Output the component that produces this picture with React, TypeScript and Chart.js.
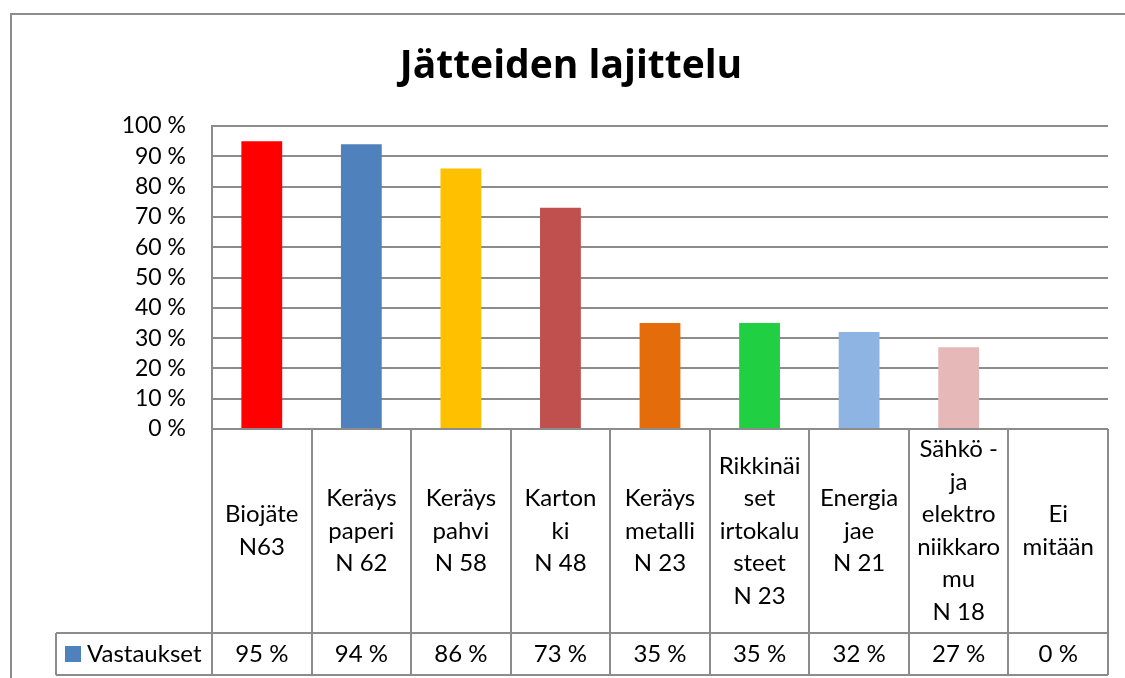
import React, { useEffect, useRef } from "react";
import { Chart, registerables } from "chart.js";

Chart.register(...registerables);

const TITLE = "Jätteiden lajittelu";
const SERIES_NAME = "Vastaukset";
const categoryLines: string[][] = [
  ["Biojäte", "N63"],
  ["Keräys", "paperi", "N 62"],
  ["Keräys", "pahvi", "N 58"],
  ["Karton", "ki", "N 48"],
  ["Keräys", "metalli", "N 23"],
  ["Rikkinäi", "set", "irtokalu", "steet", "N 23"],
  ["Energia", "jae", "N 21"],
  ["Sähkö -", "ja", "elektro", "niikkaro", "mu", "N 18"],
  ["Ei", "mitään"],
];
const values = [95, 94, 86, 73, 35, 35, 32, 27, 0];
const barColors = [
  "#FF0000",
  "#4F81BD",
  "#FFC000",
  "#C0504D",
  "#E46C0A",
  "#21CF43",
  "#8EB4E3",
  "#E6B9B8",
  "#A5A5A5",
];
const legendColor = "#4F81BD";
const yMin = 0;
const yMax = 100;
const yStep = 10;

const FONT = "Lato, 'Open Sans', sans-serif";
const TITLE_FONT = "'Open Sans', Lato, sans-serif";
const LINE = "#8c8c8c";

const tablePlugin = {
  id: "dataTable",
  beforeDraw(chart: any) {
    const ctx = chart.ctx;
    ctx.save();
    ctx.strokeStyle = LINE;
    ctx.lineWidth = 2;
    ctx.beginPath();
    ctx.moveTo(11, chart.height);
    ctx.lineTo(11, 14);
    ctx.lineTo(chart.width, 14);
    ctx.stroke();
    ctx.restore();
  },
  afterDraw(chart: any) {
    const ctx = chart.ctx;
    const xs = chart.scales.x;
    const area = chart.chartArea;
    const n = categoryLines.length;
    const cw = (area.right - area.left) / n;
    const top = area.bottom;
    const mid = top + 204;
    const bot = mid + 42;
    const legendLeft = 56;

    ctx.save();
    ctx.strokeStyle = LINE;
    ctx.lineWidth = 2;
    ctx.beginPath();
    ctx.moveTo(area.left, top);
    ctx.lineTo(area.right, top);
    ctx.moveTo(legendLeft, mid);
    ctx.lineTo(area.right, mid);
    ctx.moveTo(legendLeft, bot);
    ctx.lineTo(area.right, bot);
    for (let i = 0; i <= n; i++) {
      const x = Math.round(area.left + i * cw);
      ctx.moveTo(x, top);
      ctx.lineTo(x, bot);
    }
    ctx.moveTo(legendLeft, mid);
    ctx.lineTo(legendLeft, bot);
    ctx.stroke();

    ctx.fillStyle = "#000";
    ctx.font = `24px ${FONT}`;
    ctx.textAlign = "center";
    ctx.textBaseline = "middle";
    const lh = 32.5;
    const cellMid = (top + mid) / 2;
    categoryLines.forEach((lines, i) => {
      const cx = xs.getPixelForValue(i);
      const y0 = cellMid - ((lines.length - 1) * lh) / 2;
      lines.forEach((t, j) => ctx.fillText(t, cx, y0 + j * lh));
      ctx.fillText(`${values[i]} %`, cx, (mid + bot) / 2);
    });

    ctx.fillStyle = legendColor;
    ctx.fillRect(65, (mid + bot) / 2 - 8, 16, 16);
    ctx.fillStyle = "#000";
    ctx.textAlign = "left";
    ctx.fillText(SERIES_NAME, 87, (mid + bot) / 2);

    ctx.font = `bold 39px ${TITLE_FONT}`;
    ctx.textAlign = "center";
    ctx.textBaseline = "alphabetic";
    ctx.fillText(TITLE, 571, 78);
    ctx.restore();
  },
};

export default function App() {
  const ref = useRef<HTMLCanvasElement | null>(null);
  useEffect(() => {
    if (!ref.current) return;
    const chart = new Chart(ref.current, {
      type: "bar",
      data: {
        labels: categoryLines.map((l) => l.join(" ")),
        datasets: [
          {
            label: SERIES_NAME,
            data: values,
            backgroundColor: barColors,
            borderWidth: 0,
            barPercentage: 0.41,
            categoryPercentage: 1,
          },
        ],
      },
      options: {
        responsive: false,
        animation: false,
        layout: { padding: { left: 0, top: 126, right: 17, bottom: 249 } },
        plugins: {
          legend: { display: false },
          tooltip: { enabled: false },
          title: { display: false },
        },
        scales: {
          x: { display: false, offset: true },
          y: {
            min: yMin,
            max: yMax,
            afterFit: (s: any) => {
              s.width = 212;
            },
            ticks: {
              stepSize: yStep,
              autoSkip: false,
              padding: 26,
              color: "#000",
              font: { family: FONT, size: 23 },
              callback: (v: any) => `${v} %`,
            },
            grid: { color: LINE, lineWidth: 2, drawTicks: false },
            border: { display: true, color: LINE, width: 2 },
          },
        },
      },
      plugins: [tablePlugin],
    });
    return () => chart.destroy();
  }, []);
  return (
    <div style={{ position: "fixed", left: 0, top: 0, width: 1125, height: 678, background: "#fff" }}>
      <canvas ref={ref} width={1125} height={678} />
    </div>
  );
}
